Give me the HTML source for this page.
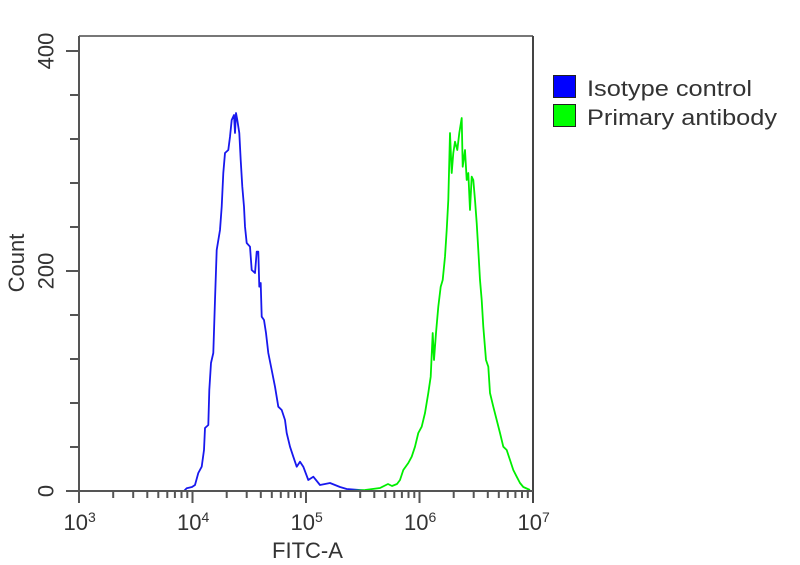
<!DOCTYPE html>
<html>
<head>
<meta charset="utf-8">
<style>
html,body{margin:0;padding:0;background:#fff;}
svg{display:block;}
text{font-family:"Liberation Sans",Arial,sans-serif;fill:#333;}
</style>
</head>
<body>
<svg width="800" height="565" viewBox="0 0 800 565" xmlns="http://www.w3.org/2000/svg">
<rect width="800" height="565" fill="#fff"/>

<!-- series -->
<polyline fill="none" stroke="#1818ee" stroke-width="1.8" stroke-linejoin="round"
points="184,491 186.7,488.3 192,487 195,485 198.3,473 201.7,466.7 204,450 205,428 208.3,425 209.3,390 211,363 213.3,353 215,300 216.7,250 220,230 221.7,206.7 223.3,173 225,153 228.3,150 230,136.7 231.7,120 234,115 235,133 236,113 237.3,120 239.3,133 240.7,160 242.3,186.7 244,206.7 245,226.7 246.7,243 250,246.7 251.7,270 255,273 256.7,251.7 258.3,251.7 259.3,286.7 260.7,283 261.7,316.7 264,320 266,333 268.3,353 271.7,370 275,386.7 278.3,406.7 281.7,410 285,420 286.7,433 290,446.7 293.3,456.7 296.7,466.7 300,461.7 303.3,466.7 308.3,480 313.3,476.7 320,485 330,483 340,487 346.7,489 360,490 372,491"/>
<polyline fill="none" stroke="#00ee00" stroke-width="1.8" stroke-linejoin="round"
points="350,491 365,490 380,488 388,484 392,486 397,484 400,480 403.3,470 408.3,463 411.7,456.7 415,446.7 418.3,433 421.7,426.7 425,413 428.3,393 430.7,376.7 432.7,333 434,360 436,333 438.3,306.7 440.7,286.7 442.7,280 445,256.7 446.7,230 448.3,200 450,133 451.7,173 453.3,153 455,141.7 457.3,150 459.3,133 461.7,118 462.7,166.7 465,150 466.7,180 468.3,173 470,210 471.7,176.7 473.3,180 475,200 476.7,223 478.3,250 480,280 481.7,300 483.3,326.7 486,360 488.3,366.7 490,393 493.3,406.7 496.7,420 500,433 503.3,446.7 506.7,450 510,460 513.3,470 516.7,476.7 520,483 523.3,487 530,490"/>

<!-- frame -->
<g stroke="#555" stroke-width="2" fill="none">
<line x1="79" y1="36" x2="533" y2="36" stroke="#777"/>
<line x1="533" y1="36" x2="533" y2="503" stroke="#444"/>
<line x1="79" y1="36" x2="79" y2="503"/>
<line x1="66" y1="491" x2="533" y2="491"/>
</g>

<!-- y ticks -->
<g stroke="#555" stroke-width="2">
<line x1="66" y1="51" x2="79" y2="51"/>
<line x1="70" y1="95" x2="79" y2="95"/>
<line x1="70" y1="139" x2="79" y2="139"/>
<line x1="70" y1="183" x2="79" y2="183"/>
<line x1="70" y1="227" x2="79" y2="227"/>
<line x1="66" y1="271" x2="79" y2="271"/>
<line x1="70" y1="315" x2="79" y2="315"/>
<line x1="70" y1="359" x2="79" y2="359"/>
<line x1="70" y1="403" x2="79" y2="403"/>
<line x1="70" y1="447" x2="79" y2="447"/>
</g>

<!-- x ticks -->
<g stroke="#555" stroke-width="2" id="xt">
<line x1="192.5" y1="491" x2="192.5" y2="503"/>
<line x1="306" y1="491" x2="306" y2="503"/>
<line x1="419.5" y1="491" x2="419.5" y2="503"/>
<!-- minor: 79 + (d + log10 k)*113.5 -->
<line x1="113.2" y1="491" x2="113.2" y2="498"/>
<line x1="133.2" y1="491" x2="133.2" y2="498"/>
<line x1="147.3" y1="491" x2="147.3" y2="498"/>
<line x1="158.3" y1="491" x2="158.3" y2="498"/>
<line x1="167.3" y1="491" x2="167.3" y2="498"/>
<line x1="174.9" y1="491" x2="174.9" y2="498"/>
<line x1="181.5" y1="491" x2="181.5" y2="498"/>
<line x1="187.3" y1="491" x2="187.3" y2="498"/>

<line x1="226.7" y1="491" x2="226.7" y2="498"/>
<line x1="246.7" y1="491" x2="246.7" y2="498"/>
<line x1="260.8" y1="491" x2="260.8" y2="498"/>
<line x1="271.8" y1="491" x2="271.8" y2="498"/>
<line x1="280.8" y1="491" x2="280.8" y2="498"/>
<line x1="288.4" y1="491" x2="288.4" y2="498"/>
<line x1="295" y1="491" x2="295" y2="498"/>
<line x1="300.8" y1="491" x2="300.8" y2="498"/>

<line x1="340.2" y1="491" x2="340.2" y2="498"/>
<line x1="360.2" y1="491" x2="360.2" y2="498"/>
<line x1="374.3" y1="491" x2="374.3" y2="498"/>
<line x1="385.3" y1="491" x2="385.3" y2="498"/>
<line x1="394.3" y1="491" x2="394.3" y2="498"/>
<line x1="401.9" y1="491" x2="401.9" y2="498"/>
<line x1="408.5" y1="491" x2="408.5" y2="498"/>
<line x1="414.3" y1="491" x2="414.3" y2="498"/>

<line x1="453.7" y1="491" x2="453.7" y2="498"/>
<line x1="473.7" y1="491" x2="473.7" y2="498"/>
<line x1="487.8" y1="491" x2="487.8" y2="498"/>
<line x1="498.8" y1="491" x2="498.8" y2="498"/>
<line x1="507.8" y1="491" x2="507.8" y2="498"/>
<line x1="515.4" y1="491" x2="515.4" y2="498"/>
<line x1="522" y1="491" x2="522" y2="498"/>
<line x1="527.8" y1="491" x2="527.8" y2="498"/>
</g>

<!-- x tick labels -->
<g font-size="22">
<text x="63.5" y="530">10<tspan font-size="14" dy="-8">3</tspan></text>
<text x="177" y="530">10<tspan font-size="14" dy="-8">4</tspan></text>
<text x="290.5" y="530">10<tspan font-size="14" dy="-8">5</tspan></text>
<text x="404" y="530">10<tspan font-size="14" dy="-8">6</tspan></text>
<text x="517.5" y="530">10<tspan font-size="14" dy="-8">7</tspan></text>
</g>
<text x="307.5" y="558" font-size="22" text-anchor="middle">FITC-A</text>

<!-- y tick labels -->
<g font-size="22" text-anchor="middle">
<text transform="translate(53.5,51) rotate(-90)">400</text>
<text transform="translate(53.5,271) rotate(-90)">200</text>
<text transform="translate(53.5,491) rotate(-90)">0</text>
</g>
<text transform="translate(24,263) rotate(-90)" font-size="22" text-anchor="middle">Count</text>

<!-- legend -->
<rect x="553.5" y="75.5" width="22" height="22" fill="#0000ff" stroke="#222" stroke-width="1"/>
<rect x="553.5" y="104.5" width="22" height="22" fill="#00ff00" stroke="#222" stroke-width="1"/>
<text x="587" y="96" font-size="22" textLength="165" lengthAdjust="spacingAndGlyphs">Isotype control</text>
<text x="587" y="125" font-size="22" textLength="190" lengthAdjust="spacingAndGlyphs">Primary antibody</text>
</svg>
</body>
</html>
